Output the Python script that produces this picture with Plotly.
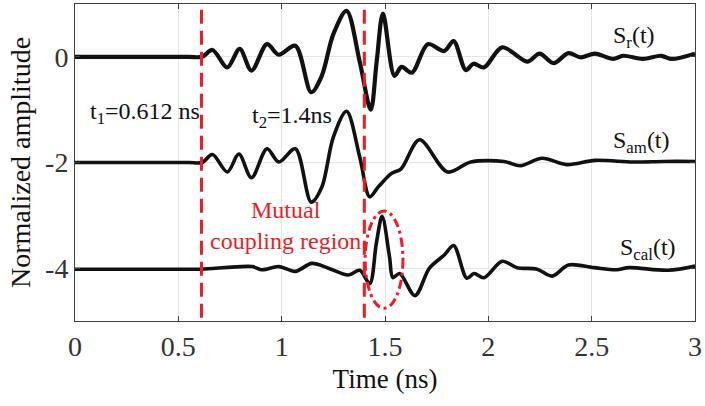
import plotly.graph_objects as go

# Reflected signal S_r(t)
t_r = [0.0, 0.3, 0.55, 0.615, 0.665, 0.737, 0.797, 0.854, 0.929, 0.986, 1.066, 1.143, 1.194, 1.25,
       1.314, 1.378, 1.431, 1.46, 1.49, 1.546, 1.58, 1.63, 1.707, 1.787, 1.832, 1.891,
       1.928, 1.979, 2.067, 2.188, 2.248, 2.315, 2.388, 2.447, 2.516, 2.604, 2.652,
       2.748, 2.837, 2.885, 3.0]
s_r = [0.0, 0.0, 0.0, 0.0, 0.13, -0.20, 0.15, -0.26, 0.24, 0.04, 0.21, -0.67, -0.36, 0.43,
       0.87, -0.10, -1.00, -0.08, 0.82, -0.36, -0.19, -0.30, 0.24, 0.11, 0.30, -0.25,
       -0.13, -0.20, 0.18, -0.09, 0.06, -0.12, 0.07, -0.01, 0.06, -0.04, 0.02,
       -0.04, 0.02, -0.04, 0.06]

# Antenna-measured signal S_am(t), offset to -2
t_am = [0.0, 0.3, 0.55, 0.615, 0.665, 0.737, 0.793, 0.854, 0.929, 0.986, 1.066, 1.143, 1.194, 1.25,
        1.314, 1.378, 1.426, 1.466, 1.53, 1.578, 1.667, 1.803, 1.915, 2.075, 2.155,
        2.26, 2.38, 2.516, 2.7, 2.85, 3.0]
s_am = [-2.0, -2.0, -2.0, -2.0, -1.85, -2.18, -1.84, -2.29, -1.74, -1.99, -1.74, -2.75, -2.47, -1.52,
        -1.03, -1.90, -2.65, -2.47, -2.21, -2.12, -1.57, -2.18, -1.99, -1.98, -2.06,
        -1.92, -2.04, -1.96, -1.99, -1.98, -1.98]

# Calibrated signal S_cal(t), offset to -4
t_cal = [0.0, 0.3, 0.55, 0.615, 0.857, 0.905, 0.986, 1.066, 1.146, 1.226, 1.322, 1.378, 1.426, 1.458,
         1.486, 1.522, 1.538, 1.571, 1.645, 1.715, 1.787, 1.832, 1.896, 1.931, 1.979,
         2.067, 2.139, 2.236, 2.308, 2.388, 2.51, 2.62, 2.68, 2.87, 3.0]
s_cal = [-4.02, -4.02, -4.02, -4.02, -3.97, -4.03, -3.97, -4.06, -3.91, -4.0, -4.13, -4.04, -4.29, -3.53,
         -3.02, -3.79, -4.18, -4.10, -4.52, -4.0, -3.75, -3.57, -4.19, -4.10, -4.18,
         -3.87, -3.99, -4.02, -4.15, -3.94, -3.99, -4.03, -3.99, -4.04, -3.96]

# Time markers (ns)
t_markers = [0.612, 1.4]
marker_labels = ["t<sub>1</sub>=0.612 ns", "t<sub>2</sub>=1.4ns"]

x_ticks = [0, 0.5, 1, 1.5, 2, 2.5, 3]
x_tick_text = ["0", "0.5", "1", "1.5", "2", "2.5", "3"]
y_ticks = [-4, -2, 0]
y_tick_text = ["-4", "-2", "0"]

# Mutual coupling region ellipse bounds
region_t = [1.404, 1.587]
region_v = [-4.76, -2.92]

FONT = "Liberation Serif, Times New Roman, serif"

fig = go.Figure()
for t, s, w in [(t_r, s_r, 4.2), (t_am, s_am, 3.6), (t_cal, s_cal, 3.6)]:
    fig.add_trace(go.Scatter(x=t, y=s, mode="lines",
                             line=dict(color="#111111", width=w, shape="spline", smoothing=0.9),
                             showlegend=False, hoverinfo="skip"))

for tm in t_markers:
    fig.add_shape(type="line", xref="x", yref="paper", x0=tm, x1=tm, y0=0.01, y1=0.99,
                  line=dict(color="#ee1c25", width=3, dash="14px,7px"))

fig.add_shape(type="circle", xref="x", yref="y",
              x0=region_t[0], x1=region_t[1], y0=region_v[0], y1=region_v[1],
              line=dict(color="#ee1c25", width=3, dash="9px,4px,3px,4px"))

annots = [
    (0.341, -1.06, marker_labels[0], "#111111", 24),
    (1.048, -1.14, marker_labels[1], "#111111", 24),
    (2.707, 0.38, "S<sub>r</sub>(t)", "#111111", 24),
    (2.74, -1.62, "S<sub>am</sub>(t)", "#111111", 24),
    (2.774, -3.64, "S<sub>cal</sub>(t)", "#111111", 24),
    (1.019, -3.19, "Mutual<br>coupling region", "#ee1c25", 24),
]
for x, y, txt, col, fs in annots:
    fig.add_annotation(x=x, y=y, xref="x", yref="y", text=txt, showarrow=False,
                       font=dict(family=FONT, size=fs, color=col),
                       xanchor="center", yanchor="middle")

fig.update_layout(
    width=705, height=406,
    margin=dict(l=75, r=6, t=3, b=85),
    paper_bgcolor="white", plot_bgcolor="white",
    font=dict(family=FONT, color="#262626"),
)
fig.update_xaxes(
    range=[0, 3], tickvals=x_ticks, ticktext=x_tick_text,
    showgrid=True, gridcolor="#e6e6e6", gridwidth=1, zeroline=False,
    showline=True, linecolor="#404040", linewidth=1, mirror="ticks",
    ticks="inside", ticklen=5, tickcolor="#404040", ticklabeloverflow="allow",
    tickfont=dict(family=FONT, size=28, color="#333333"),
    title=dict(text="Time (ns)", font=dict(family=FONT, size=27, color="#111111"), standoff=8),
)
fig.update_yaxes(
    range=[-5, 1], tickvals=y_ticks, ticktext=y_tick_text,
    showgrid=True, gridcolor="#e6e6e6", gridwidth=1, zeroline=False,
    showline=True, linecolor="#404040", linewidth=1, mirror="ticks",
    ticks="inside", ticklen=5, tickcolor="#404040",
    tickfont=dict(family=FONT, size=28, color="#333333"),
    title=dict(text="Normalized amplitude", font=dict(family=FONT, size=28, color="#111111"), standoff=6),
)

fig.write_html("out.html")
